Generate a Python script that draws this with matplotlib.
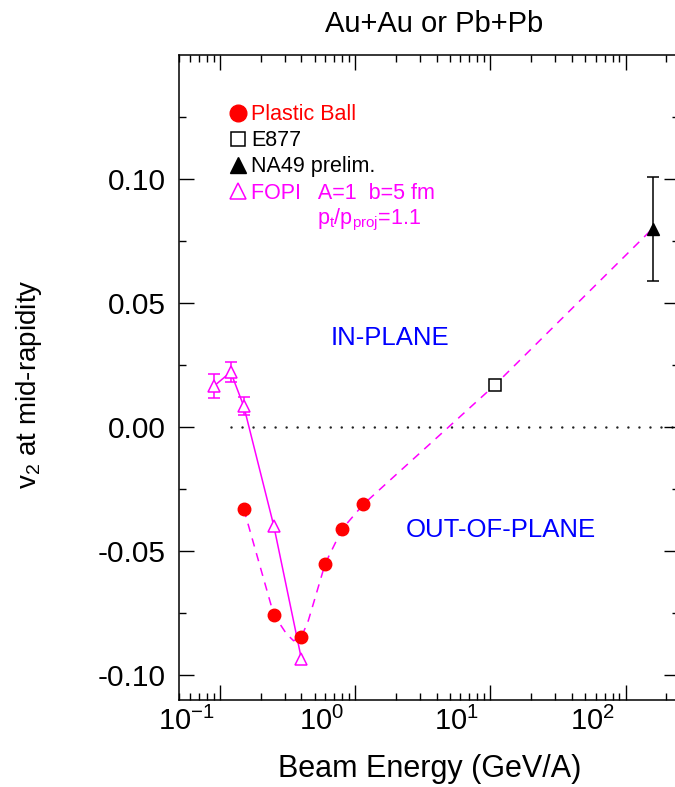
import matplotlib
matplotlib.use("Agg")
import matplotlib.pyplot as plt
import matplotlib.transforms as mtransforms
from matplotlib.lines import Line2D
from matplotlib.ticker import LogLocator, NullFormatter

plt.rcParams['font.family'] = ['Liberation Sans', 'DejaVu Sans']
plt.rcParams['mathtext.fontset'] = 'custom'
plt.rcParams['mathtext.rm'] = 'Liberation Sans'
plt.rcParams['mathtext.it'] = 'Liberation Sans:italic'
plt.rcParams['axes.unicode_minus'] = False

# Plastic Ball (Au+Au)
pb_e = [0.15, 0.25, 0.4, 0.6, 0.8, 1.15]
pb_v2 = [-0.033, -0.0756, -0.0846, -0.055, -0.0411, -0.0311]

# E877 (Au+Au, AGS)
e877_e = [10.8]
e877_v2 = [0.017]

# NA49 prelim. (Pb+Pb, SPS)
na49_e = [158]
na49_v2 = [0.080]
na49_err = [0.021]

# FOPI, A=1, b=5 fm, pt/pproj=1.1
fopi_e = [0.09, 0.12, 0.15, 0.25, 0.4]
fopi_v2 = [0.0165, 0.0222, 0.0084, -0.0398, -0.0934]
fopi_err = [0.0049, 0.0042, 0.0037]   # only the first three have error bars

# dashed guide to the eye through the data
guide_e = [0.15, 0.25, 0.31, 0.35, 0.4, 0.45, 0.5, 0.6, 0.8, 1.15, 10.8, 158]
guide_v2 = [-0.033, -0.0756, -0.0833, -0.0861, -0.0846, -0.078, -0.0696,
            -0.055, -0.0411, -0.0311, 0.017, 0.080]

x_lim = (0.05, 250)
y_lim = (-0.11, 0.15)
x_major = [0.1, 1, 10, 100]
x_labels = [r'$10^{-1}$', r'$10^{0}$', r'$10^{1}$', r'$10^{2}$']
y_major = [-0.10, -0.05, 0.0, 0.05, 0.10]
y_minor = [-0.075, -0.025, 0.025, 0.075, 0.125]

magenta = '#ff00ff'

fig = plt.figure(figsize=(6.75, 7.87), dpi=100)
ax = fig.add_axes([0.2656, 0.1105, 0.7410, 0.8196])
ax.set_xscale('log')
ax.set_xlim(*x_lim)
ax.set_ylim(*y_lim)

# zero line
ax.plot([0.12, x_lim[1]], [0, 0], color='#222222', lw=1.8,
        linestyle=(0, (0.01, 4.4)), dash_capstyle='round', zorder=1)

ax.plot(guide_e, guide_v2, color=magenta, lw=1.1, dashes=(5.5, 4.5), zorder=2)
ax.plot(fopi_e, fopi_v2, color=magenta, lw=1.1, zorder=2)

ax.errorbar(fopi_e[:3], fopi_v2[:3], yerr=fopi_err, fmt='none', ecolor=magenta,
            elinewidth=1.1, capsize=4, capthick=1.1, zorder=3)
ax.plot(fopi_e, fopi_v2, linestyle='none', marker='^', ms=8.5, mfc='white',
        mec=magenta, mew=1.1, zorder=4)

ax.plot(pb_e, pb_v2, linestyle='none', marker='o', ms=9, color='red', zorder=5)
ax.plot(e877_e, e877_v2, linestyle='none', marker='s', ms=8.5, mfc='white',
        mec='black', mew=1.1, zorder=5)
ax.errorbar(na49_e, na49_v2, yerr=na49_err, fmt='^', color='black', ms=9,
            elinewidth=1.1, capsize=4.2, capthick=1.1, zorder=5)

# axes styling
for s in ax.spines.values():
    s.set_linewidth(1.1)
ax.set_xticks(x_major, x_labels)
ax.xaxis.set_minor_locator(LogLocator(base=10, subs=range(2, 10), numticks=20))
ax.xaxis.set_minor_formatter(NullFormatter())
ax.set_yticks(y_major, ['%.2f' % v for v in y_major])
ax.set_yticks(y_minor, minor=True)
ax.tick_params(which='both', direction='in', top=True, right=True, width=1.0)
ax.tick_params(which='major', length=11)
ax.tick_params(which='minor', length=5)
ax.tick_params(axis='x', labelsize=21, pad=5)
ax.tick_params(axis='y', labelsize=21.5, pad=10)

# the decade labels sit a bit left of their ticks in the original
shift = mtransforms.ScaledTranslation(-0.335, 0, fig.dpi_scale_trans)
for lab in ax.get_xticklabels():
    lab.set_transform(lab.get_transform() + shift)

ax.set_xlabel('Beam Energy (GeV/A)', fontsize=22, labelpad=13)
ax.set_ylabel(r'v$_2$ at mid-rapidity', fontsize=20)
ax.yaxis.set_label_coords(-0.27, 0.49)
title_pos = ax.transAxes + mtransforms.ScaledTranslation(0, 0.23, fig.dpi_scale_trans)
ax.text(0.509, 1.0, 'Au+Au or Pb+Pb', transform=title_pos, fontsize=21,
        ha='center', va='baseline')

ax.text(0.421, 0.561, 'IN-PLANE', transform=ax.transAxes, fontsize=18.5,
        color='blue', ha='center', va='center')
ax.text(0.643, 0.2636, 'OUT-OF-PLANE', transform=ax.transAxes, fontsize=18.5,
        color='blue', ha='center', va='center')

handles = [
    Line2D([], [], linestyle='none', marker='o', ms=12, color='red'),
    Line2D([], [], linestyle='none', marker='s', ms=9.5, mfc='white', mec='black', mew=1.1),
    Line2D([], [], linestyle='none', marker='^', ms=11.5, color='black'),
    Line2D([], [], linestyle='none', marker='^', ms=12, mfc='white', mec=magenta, mew=1.1),
]
labels = ['Plastic Ball', 'E877', 'NA49 prelim.', 'FOPI   A=1  b=5 fm']
ax.legend(handles, labels, loc='upper left', bbox_to_anchor=(0.1008, 0.9238),
          frameon=False, fontsize=15.5, handlelength=0.8, handletextpad=0.2,
          labelspacing=0.24, borderpad=0, borderaxespad=0,
          labelcolor=['red', 'black', 'black', magenta])
ax.text(0.2746, 0.7446, r'$\mathrm{p_t}$/$\mathrm{p_{proj}}$=1.1',
        transform=ax.transAxes, fontsize=15.5, color=magenta, va='center')

fig.savefig('out.png', dpi=100)
